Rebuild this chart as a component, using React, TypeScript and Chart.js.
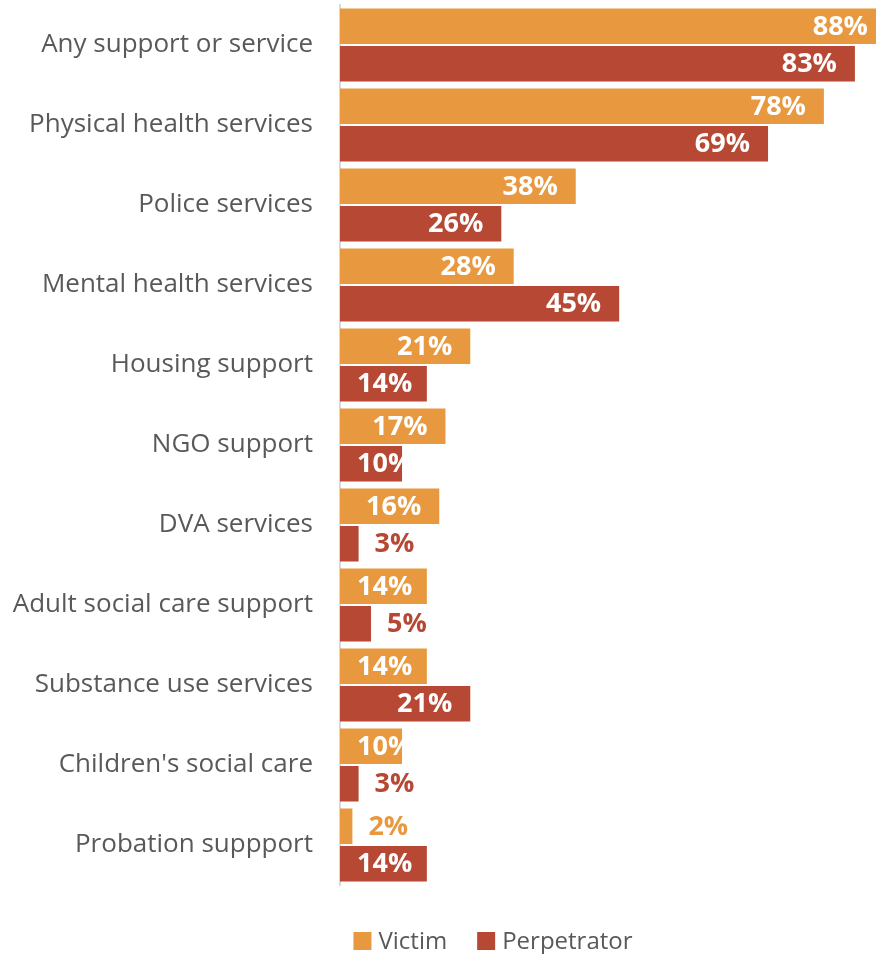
import React, { useEffect, useRef } from "react";
import { Chart, registerables } from "chart.js";

Chart.register(...registerables);

const categories = [
  "Any support or service",
  "Physical health services",
  "Police services",
  "Mental health services",
  "Housing support",
  "NGO support",
  "DVA services",
  "Adult social care support",
  "Substance use services",
  "Children's social care",
  "Probation suppport",
];
const victim = [88, 78, 38, 28, 21, 17, 16, 14, 14, 10, 2];
const perpetrator = [83, 69, 26, 45, 14, 10, 3, 5, 21, 3, 14];
const seriesNames = ["Victim", "Perpetrator"];
const seriesColors = ["#E8993F", "#B64834"];
const xMax = 86.4;

const FONT = "'Open Sans', 'DejaVu Sans', sans-serif";
const TEXT_COLOR = "#595959";

const valueLabels = {
  id: "valueLabels",
  afterDatasetsDraw(chart: any) {
    const ctx = chart.ctx;
    const base = chart.scales.x.getPixelForValue(0);
    ctx.save();
    ctx.font = `bold 27px ${FONT}`;
    ctx.textBaseline = "middle";
    ctx.textAlign = "left";
    chart.data.datasets.forEach((ds: any, di: number) => {
      const meta = chart.getDatasetMeta(di);
      meta.data.forEach((bar: any, i: number) => {
        const v = ds.data[i];
        const txt = `${v}%`;
        const w = ctx.measureText(txt).width;
        const end = bar.x;
        if (v < 8) {
          ctx.fillStyle = seriesColors[di];
          ctx.fillText(txt, end + 16, bar.y + 1);
        } else {
          const left = Math.max(end - 18 - w, base + 17);
          ctx.save();
          ctx.beginPath();
          ctx.rect(base, bar.y - bar.height / 2, end - base, bar.height);
          ctx.clip();
          ctx.fillStyle = "#FFFFFF";
          ctx.fillText(txt, left, bar.y + 1);
          ctx.restore();
        }
      });
    });
    ctx.restore();
  },
};

const customLegend = {
  id: "customLegend",
  afterDraw(chart: any) {
    const ctx = chart.ctx;
    ctx.save();
    ctx.font = `24px ${FONT}`;
    ctx.textBaseline = "middle";
    ctx.textAlign = "left";
    const box = 18;
    const gap = 7;
    const spacing = 30;
    const widths = seriesNames.map((n) => ctx.measureText(n).width);
    const total =
      widths.reduce((a, w) => a + box + gap + w, 0) + spacing * (seriesNames.length - 1);
    let x = 493 - total / 2;
    const y = chart.chartArea.bottom + 56;
    seriesNames.forEach((n, i) => {
      ctx.fillStyle = seriesColors[i];
      ctx.fillRect(x, y - box / 2, box, box);
      x += box + gap;
      ctx.fillStyle = TEXT_COLOR;
      ctx.fillText(n, x, y + 1);
      x += widths[i] + spacing;
    });
    ctx.restore();
  },
};

export default function App() {
  const ref = useRef<HTMLCanvasElement | null>(null);

  useEffect(() => {
    document.body.style.margin = "0";
    if (!ref.current) return;
    const chart = new Chart(ref.current, {
      type: "bar",
      data: {
        labels: categories,
        datasets: [
          {
            label: seriesNames[0],
            data: victim,
            backgroundColor: seriesColors[0],
            categoryPercentage: 0.9375,
            barPercentage: 0.947,
          },
          {
            label: seriesNames[1],
            data: perpetrator,
            backgroundColor: seriesColors[1],
            categoryPercentage: 0.9375,
            barPercentage: 0.947,
          },
        ],
      },
      options: {
        indexAxis: "y",
        animation: false,
        responsive: true,
        maintainAspectRatio: false,
        layout: { padding: { top: 5, bottom: 69, left: 0, right: 0 } },
        plugins: {
          legend: { display: false },
          tooltip: { enabled: false },
        },
        scales: {
          x: { display: false, min: 0, max: xMax },
          y: {
            grid: { display: false, drawTicks: false },
            border: { display: true, color: "#D9D9D9", width: 2 },
            ticks: {
              color: TEXT_COLOR,
              font: { family: FONT, size: 26 },
              padding: 27,
            },
            afterFit(scale: any) {
              scale.width = 340;
              scale.paddingTop = 0;
              scale.paddingBottom = 0;
            },
          },
        },
      } as any,
      plugins: [valueLabels, customLegend],
    });
    return () => chart.destroy();
  }, []);

  return (
    <div style={{ position: "absolute", left: 0, top: 0, width: 876, height: 954 }}>
      <canvas ref={ref} />
    </div>
  );
}
